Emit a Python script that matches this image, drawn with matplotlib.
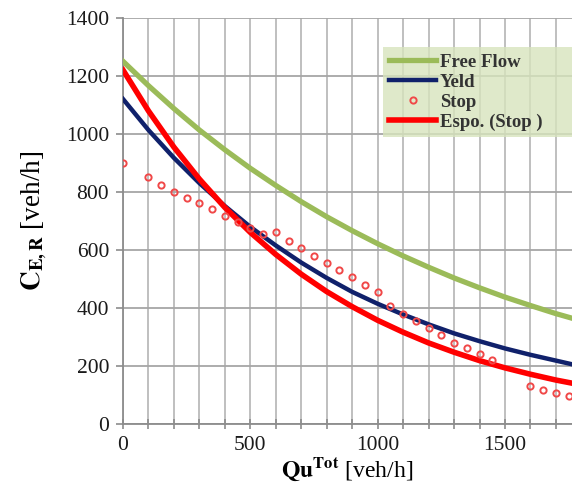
import numpy as np
import matplotlib.pyplot as plt

plt.rcParams['font.family'] = ['Liberation Serif', 'DejaVu Serif']
plt.rcParams['mathtext.fontset'] = 'stix'

# curves, read at every 100 veh/h
qu = [0, 100, 200, 300, 400, 500, 600, 700, 800, 900, 1000,
      1100, 1200, 1300, 1400, 1500, 1600, 1700, 1800]
free_flow = [1250, 1166, 1087, 1013, 945, 881, 822, 766, 714, 666, 621,
             579, 540, 503, 469, 437, 408, 380, 355]
yeld = [1120, 1013, 917, 830, 751, 679, 615, 556, 503, 455, 414,
        377, 343, 312, 285, 260, 238, 218, 198]
espo = [1220, 1079, 954, 844, 746, 660, 584, 516, 456, 404, 357,
        316, 279, 247, 218, 193, 171, 151, 134]

# measured "Stop" points
stop_x = [0, 100, 150, 200, 250, 300, 350, 400, 450, 500, 550, 600, 650, 700,
          750, 800, 850, 900, 950, 1000, 1050, 1100, 1150, 1200, 1250, 1300,
          1350, 1400, 1450, 1600, 1650, 1700, 1750]
stop_y = [900, 850, 825, 800, 780, 760, 740, 715, 695, 675, 655, 660, 630, 605,
          580, 555, 530, 505, 480, 455, 405, 380, 355, 330, 305, 280,
          260, 240, 220, 130, 115, 105, 95]

fig = plt.figure(figsize=(5.72, 4.94), dpi=100)
ax = fig.add_axes([0.215, 0.142, 0.785, 0.822])

ax.plot(qu, free_flow, color='#9bbb59', lw=3.8, label='Free Flow', zorder=3)
ax.plot(qu, yeld, color='#10216b', lw=3.2, label='Yeld', zorder=4)
ax.plot(stop_x, stop_y, ls='none', marker='o', ms=4.5, mfc='none',
        mec='#f04848', mew=1.4, label='Stop', zorder=6)
ax.plot(qu, espo, color='#ff0000', lw=4.0, label='Espo. (Stop )', zorder=5)

ax.set_xlim(0, 1763)
ax.set_ylim(0, 1400)
ax.set_xticks([0, 500, 1000, 1500])
ax.set_xticks(np.arange(0, 1800, 100), minor=True)
ax.set_yticks(np.arange(0, 1401, 200))

ax.grid(True, which='major', axis='y', color='#a6a6a6', lw=1.3)
ax.grid(True, which='both', axis='x', color='#bfbfbf', lw=1.4)
ax.set_axisbelow(True)

for side in ['top', 'right']:
    ax.spines[side].set_visible(False)
for side in ['left', 'bottom']:
    ax.spines[side].set_color('#8c8c8c')
    ax.spines[side].set_linewidth(1.3)

ax.tick_params(axis='both', which='both', colors='#8c8c8c', labelcolor='#1a1a1a',
               labelsize=15.5)
ax.tick_params(axis='x', which='both', direction='inout', length=7, width=1.2, pad=5)
ax.tick_params(axis='y', direction='out', length=5, width=1.2, pad=5)

ax.set_xlabel(r'$\mathbf{Qu}^{\mathbf{Tot}}$ [veh/h]', fontsize=17, labelpad=1)
ax.set_ylabel(r'$\mathbf{C}_{\mathbf{E,R}}$ [veh/h]', fontsize=19.5, labelpad=12)

leg = ax.legend(loc='upper left', bbox_to_anchor=(0.578, 0.695, 0.43, 0.233),
                mode='expand', borderaxespad=0,
                fontsize=13.5, frameon=True, fancybox=False, handlelength=2.5,
                handletextpad=0.2, labelspacing=0.15, borderpad=0.35, numpoints=1)
leg.get_frame().set_facecolor('#d7e4bd')
leg.get_frame().set_alpha(0.8)
leg.get_frame().set_edgecolor('none')
for t in leg.get_texts():
    t.set_fontweight('bold')
    t.set_color('#333333')

fig.savefig('out.png', dpi=100)
